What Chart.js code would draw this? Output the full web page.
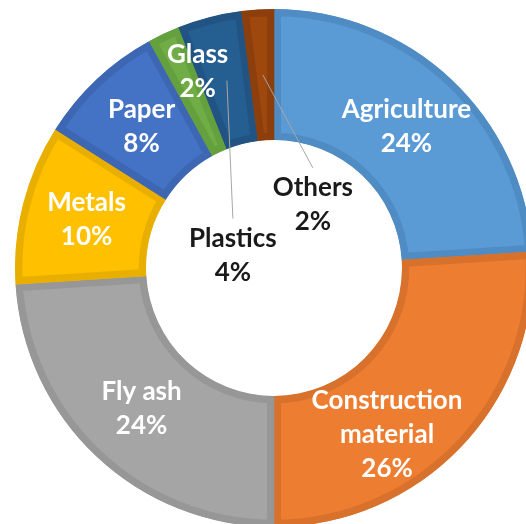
<!DOCTYPE html>
<html>
<head>
<meta charset="utf-8">
<script src="https://cdn.jsdelivr.net/npm/chart.js@4.4.1/dist/chart.umd.min.js"></script>
<style>
  html, body { margin: 0; padding: 0; background: #fff; overflow: hidden; }
  body { width: 526px; height: 524px; position: relative; }
  #wasteChart { position: absolute; left: 15px; top: 9px; }
</style>
</head>
<body>
<canvas id="wasteChart" width="518" height="518"></canvas>
<script>
var categories = [`Agriculture`, `Construction material`, `Fly ash`, `Metals`, `Paper`, `Glass`, `Plastics`, `Others`]
var shares = [24, 26, 24, 10, 8, 2, 4, 2]

var fillColors = [`#5b9bd5`, `#ed7d31`, `#a5a5a5`, `#ffc000`, `#4472c4`, `#70ad47`, `#255e91`, `#9e480e`]
var edgeColors = [`#4f8cc4`, `#d8712b`, `#979797`, `#e9af00`, `#3d67b3`, `#65a03f`, `#215483`, `#8c3f0c`]

// label tweaks: some labels were pushed off the ring centre, two sit in the hole with leader lines
var labelShift = {
    1: {dx: -28, dy: 34},
    5: {dx: 6, dy: -21},
    6: {dx: 7, dy: 175, leader: true, dark: true},
    7: {dx: 51, dy: 130, leader: true, dark: true}
}

var lineGap = 34

var sliceLabels = {
    id: `sliceLabels`,
    afterDatasetsDraw(chart){
        var ctx = chart.ctx
        var arcs = chart.getDatasetMeta(0).data
        ctx.save()
        ctx.font = `bold 26px Lato`
        ctx.textAlign = `center`
        ctx.textBaseline = `middle`
        for(var pos = 0; pos < arcs.length; pos++){
            var centre = arcs[pos].getCenterPoint()
            var shift = labelShift[pos] || {dx: 0, dy: 0}
            var lines = categories[pos] == `Construction material` ? [`Construction`, `material`] : [categories[pos]]
            lines.push(`${shares[pos]}%`)
            var x = centre.x + shift.dx
            var y = centre.y + shift.dy
            var top = y - (lines.length - 1) * lineGap / 2

            if(shift.leader){
                ctx.strokeStyle = `#a6a6a6`
                ctx.lineWidth = 1
                ctx.beginPath()
                ctx.moveTo(centre.x + 1, centre.y)
                ctx.lineTo(x, top - 20)
                ctx.stroke()
            }

            ctx.fillStyle = shift.dark ? `#1a1a1a` : `#ffffff`
            for(var line = 0; line < lines.length; line++){
                ctx.fillText(lines[line], x, top + line * lineGap)
            }
        }
        ctx.restore()
    }
}

new Chart(document.getElementById(`wasteChart`), {
    type: `doughnut`,
    data: {
        labels: categories,
        datasets: [{
            data: shares,
            backgroundColor: fillColors,
            borderColor: edgeColors,
            borderWidth: 7,
            borderAlign: `inner`,
            borderJoinStyle: `miter`,
            hoverBorderWidth: 7
        }]
    },
    options: {
        responsive: false,
        devicePixelRatio: 1,
        animation: false,
        cutout: `49.4%`,
        layout: {
            padding: 0
        },
        plugins: {
            legend: {
                display: false
            },
            tooltip: {
                enabled: false
            }
        }
    },
    plugins: [sliceLabels]
})
</script>
</body>
</html>
